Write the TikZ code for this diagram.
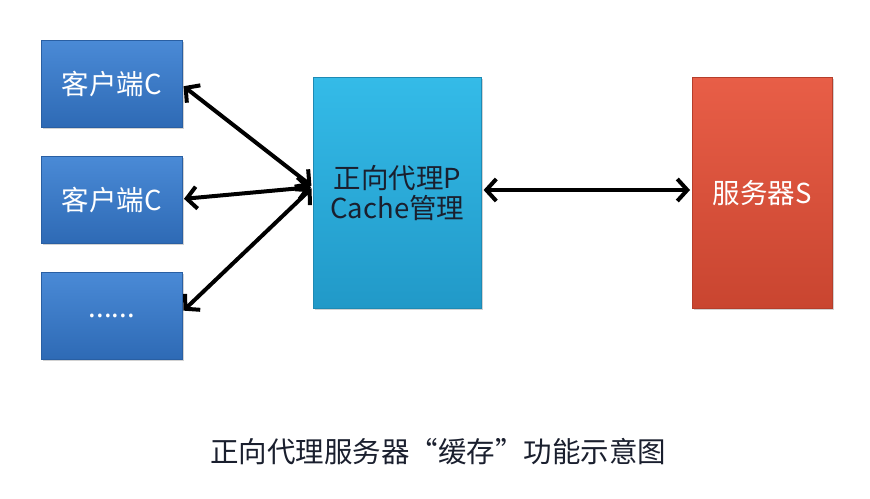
\documentclass[tikz,border=0pt]{standalone}
\usepackage{fontspec}
\setmainfont{Noto Sans CJK SC}
\newfontfamily\cjk{Noto Sans CJK SC}
\usetikzlibrary{arrows.meta,shadows}
\definecolor{cliT}{HTML}{4A8AD6}
\definecolor{cliB}{HTML}{2E6AB5}
\definecolor{proT}{HTML}{34BBE8}
\definecolor{proB}{HTML}{2199C8}
\definecolor{srvT}{HTML}{E85E47}
\definecolor{srvB}{HTML}{C94530}
\definecolor{txtdark}{HTML}{1A1F2E}
\begin{document}
\begin{tikzpicture}[x=1pt,y=-1pt,
  boxbase/.style={draw, line width=0.6pt, minimum width=141pt, minimum height=87pt, anchor=north west,
     inner sep=0pt, drop shadow={shadow xshift=1.5pt, shadow yshift=-1.5pt, opacity=0.35}, font=\cjk\fontsize{27.5}{34}\selectfont, align=center},
  clientbox/.style={boxbase, top color=cliT, bottom color=cliB, draw=cliB!90!black, text=white},
  proxybox/.style={boxbase, top color=proT, bottom color=proB, draw=proB!90!black, text=txtdark, minimum width=168pt, minimum height=231pt},
  serverbox/.style={boxbase, top color=srvT, bottom color=srvB, draw=srvB!90!black, text=white, minimum width=140pt, minimum height=231pt},
  link/.style={line width=4pt, {Straight Barb[length=10pt,width=22pt,line width=4pt]}-{Straight Barb[length=10pt,width=22pt,line width=4pt]}, shorten <=2pt, shorten >=2pt}
]
\useasboundingbox (0,0) rectangle (870,498);
\fill[white] (0,0) rectangle (870,498);

\node[clientbox] (c1) at (41,40) {客户端C};
\node[clientbox] (c2) at (41,156) {客户端C};
\node[clientbox] (c3) at (41,272) {\raisebox{-4pt}{......}};
\node[proxybox] (p) at (313,77) {正向代理P\\[-4pt]Cache管理};
\node[serverbox] (s) at (692,77) {服务器S};

\coordinate (pl) at (313,187);
\coordinate (c1r) at (182,85);
\coordinate (c2r) at (182,199);
\coordinate (c3r) at (182,312);

\draw[link] (c1r) -- (pl);
\draw[link] (c2r) -- (pl);
\draw[link] (c3r) -- (pl);
\draw[link] (p.east |- 0,190) -- (s.west |- 0,190);

\node[font=\cjk\fontsize{28.5}{34}\selectfont, text=txtdark] (cap) at (438,452) {正向代理服务器“缓存”功能示意图};
\end{tikzpicture}
\end{document}
